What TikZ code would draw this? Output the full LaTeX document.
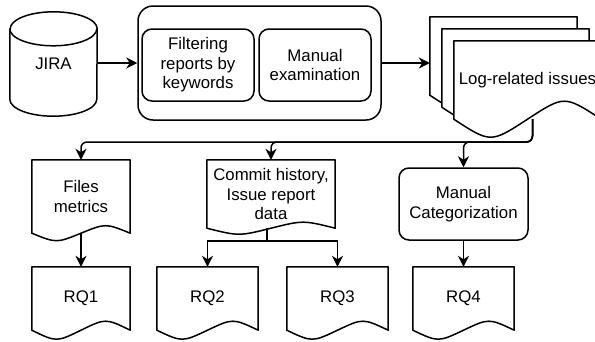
\documentclass[tikz,border=0pt]{standalone}
\usepackage{fontspec}
\setmainfont{Liberation Sans}
\usetikzlibrary{arrows.meta,calc,backgrounds}

\tikzset{
  shapeline/.style={line width=1.5pt, line join=round},
  flow/.style={line width=1.5pt, -{Stealth[length=11pt,width=11pt,inset=3.5pt]}},
  txt/.style={inner sep=0pt, align=center, font=\fontsize{16.8}{19.6}\selectfont},
  roundbox/.style={txt, shapeline, draw, rounded corners=10pt},
  docnode/.style={txt, rectangle},
}

% documento con bordo ondulato
\newcommand{\docshape}[2][6pt]{%
  \begin{pgfonlayer}{background}
  \draw[shapeline, fill=white] (#2.south west) -- (#2.north west) -- (#2.north east) -- (#2.south east)
    .. controls ($(#2.south east)!0.25!(#2.south west)+(0pt,2*#1)$) .. (#2.south)
    .. controls ($(#2.south west)!0.25!(#2.south east)+(0pt,-2*#1)$) .. (#2.south west) -- cycle;
  \end{pgfonlayer}}

\begin{document}
\begin{tikzpicture}[x=1pt, y=-1pt]
    \useasboundingbox (0,0) rectangle (595,341);

    % sorgente
    \node[txt, minimum width=87pt, minimum height=104pt] (jira) at (53.5,64) {JIRA};
    \draw[shapeline] ([yshift=-17pt]jira.north west) -- ([yshift=17pt]jira.south west)
        arc[start angle=180, end angle=360, x radius=43.5pt, y radius=17pt]
        -- ([yshift=-17pt]jira.north east)
        arc[start angle=0, end angle=180, x radius=43.5pt, y radius=17pt] -- cycle;
    \draw[shapeline] ([yshift=-17pt]jira.north west)
        arc[start angle=180, end angle=360, x radius=43.5pt, y radius=17pt];

    % filtraggio
    \node[roundbox, rounded corners=15pt, minimum width=243pt, minimum height=114pt] (stage) at (259.5,63) {};
    \node[roundbox, minimum width=112pt, minimum height=72pt] (filter) at (198,65) {Filtering\\reports by\\keywords};
    \node[roundbox, minimum width=112pt, minimum height=72pt] (manual) at (315,65) {Manual\\examination};

    % pila di documenti
    \node[docnode, minimum width=147pt, minimum height=78pt] (logback) at (503.5,56) {};
    \node[docnode, minimum width=147pt, minimum height=78pt] (logmid) at (515.5,68) {};
    \node[docnode, minimum width=147pt, minimum height=78pt] (logfront) at (527.5,80) {Log-related issues};
    \docshape[12pt]{logback}
    \docshape[12pt]{logmid}
    \docshape[12pt]{logfront}

    % dati intermedi
    \node[docnode, minimum width=98pt, minimum height=73pt] (files) at (81,196.5) {Files\\metrics};
    \node[docnode, minimum width=128pt, minimum height=68pt] (commit) at (271,194) {Commit history,\\Issue report\\data};
    \node[roundbox, minimum width=129pt, minimum height=72pt] (cat) at (463.5,204) {Manual\\Categorization};
    \docshape[5pt]{files}
    \docshape[4pt]{commit}

    % domande di ricerca
    \node[docnode, minimum width=98pt, minimum height=63pt] (rq1) at (81,298.5) {RQ1};
    \node[docnode, minimum width=101pt, minimum height=63pt] (rq2) at (207.5,298.5) {RQ2};
    \node[docnode, minimum width=101pt, minimum height=63pt] (rq3) at (337.5,298.5) {RQ3};
    \node[docnode, minimum width=101pt, minimum height=63pt] (rq4) at (463.5,298.5) {RQ4};
    \docshape[6pt]{rq1}
    \docshape[6pt]{rq2}
    \docshape[6pt]{rq3}
    \docshape[6pt]{rq4}

    % frecce
    \draw[flow] (jira.east |- stage.west) -- (stage.west);
    \draw[flow] (stage.east) -- (stage.east -| logback.west);

    \coordinate (bus) at (0,142);
    \coordinate (tap) at ([xshift=5pt]logfront.south);
    \draw[flow, rounded corners=6pt] (tap) |- (bus -| files.north) -- (files.north);
    \draw[flow, rounded corners=6pt] (tap) |- (bus -| commit.north) -- (commit.north);
    \draw[flow, rounded corners=6pt] (tap) |- (bus -| cat.north) -- (cat.north);

    \coordinate (split) at ($(commit.south)+(-4pt,-13pt)$);
    \draw[flow] (commit.south -| split) -- (split) -| (rq2.north);
    \draw[flow] (split) -| (rq3.north);

    \draw[flow] (files.south) -- (rq1.north);
    \draw[flow] (cat.south) -- (rq4.north);
\end{tikzpicture}
\end{document}
